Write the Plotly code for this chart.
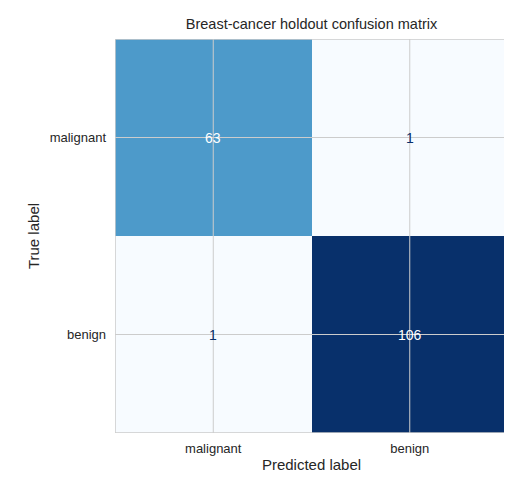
import plotly.graph_objects as go

# confusion matrix values (rows = true, cols = predicted)
labels = ["malignant", "benign"]
counts = [[63, 1],
          [1, 106]]

blues = [[0.0, "#f7fbff"], [0.125, "#deebf7"], [0.25, "#c6dbef"], [0.375, "#9ecae1"],
         [0.5, "#6baed6"], [0.625, "#4292c6"], [0.75, "#2171b5"], [0.875, "#08519c"],
         [1.0, "#08306b"]]

vmin = min(min(r) for r in counts)
vmax = max(max(r) for r in counts)

fig = go.Figure(go.Heatmap(
    z=counts, x=[0, 1], y=[0, 1], colorscale=blues, zmin=vmin, zmax=vmax,
    showscale=False, hoverinfo="skip"))

# cell annotations, white on dark cells
for i, row in enumerate(counts):
    for j, v in enumerate(row):
        frac = (v - vmin) / (vmax - vmin)
        fig.add_annotation(x=j, y=i, text=str(v), showarrow=False,
                           font=dict(size=14, color="white" if frac > 0.5 else "#08306b"))

# grid lines drawn over the image, like matplotlib
for k in range(2):
    fig.add_shape(type="line", x0=k, x1=k, y0=-0.5, y1=1.5, line=dict(color="#cccccc", width=1))
    fig.add_shape(type="line", y0=k, y1=k, x0=-0.5, x1=1.5, line=dict(color="#cccccc", width=1))
fig.add_shape(type="rect", x0=-0.5, x1=1.5, y0=-0.5, y1=1.5, line=dict(color="#cccccc", width=1.5))

fig.update_layout(
    width=512, height=484,
    margin=dict(l=107, r=12, t=31, b=59, autoexpand=False),
    paper_bgcolor="white", plot_bgcolor="white",
    font=dict(family="Liberation Sans, Arial, sans-serif", size=12, color="#262626"),
    title=dict(text="Breast-cancer holdout confusion matrix", xref="paper", x=0.5, xanchor="center",
               y=1 - 16 / 484, yanchor="middle", font=dict(size=14.5)),
    xaxis=dict(tickvals=[0, 1], ticktext=labels, range=[-0.5, 1.5], showgrid=False,
               zeroline=False, ticks="", ticklabelstandoff=6, automargin=False,
               title=dict(text="Predicted label", font=dict(size=15), standoff=4),
               tickfont=dict(size=13)),
    yaxis=dict(tickvals=[0, 1], ticktext=labels, range=[1.5, -0.5], showgrid=False,
               zeroline=False, ticks="", ticklabelstandoff=8, automargin=False,
               title=dict(text="True label", font=dict(size=15), standoff=6),
               tickfont=dict(size=13)),
)

fig.write_html("out.html")
